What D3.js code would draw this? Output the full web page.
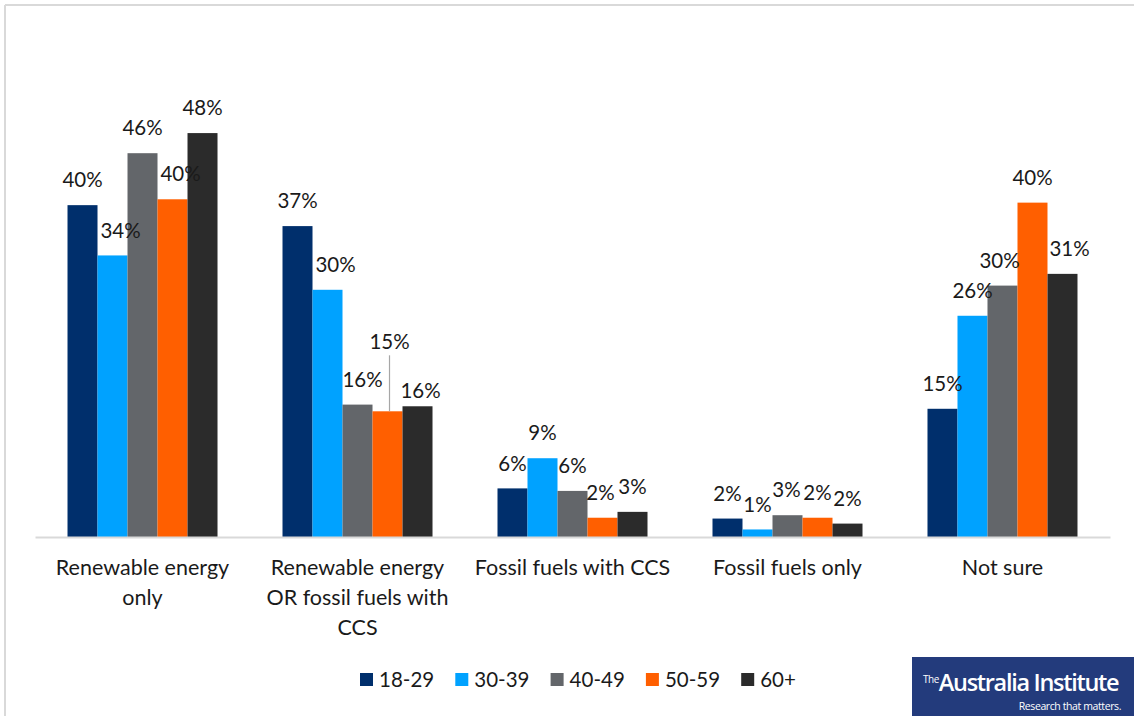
<!DOCTYPE html>
<html>
<head>
<meta charset="utf-8">
<script src="https://cdn.jsdelivr.net/npm/d3@7"></script>
<style>
  body { margin: 0; background: #fff; }
  svg { display: block; font-family: Lato, "Open Sans", sans-serif; }
</style>
</head>
<body>
<svg></svg>
<script>
let categories = [
    ['Renewable energy', 'only'],
    ['Renewable energy', 'OR fossil fuels with', 'CCS'],
    ['Fossil fuels with CCS'],
    ['Fossil fuels only'],
    ['Not sure']
]
let ageGroups = ['18-29', '30-39', '40-49', '50-59', '60+']
let colors = ['#002f6c', '#00a2ff', '#63666a', '#ff5f00', '#2b2b2b']

// percent by age group, one entry per category
let age18 = [39.6, 37.1, 5.8, 2.2, 15.3]
let age30 = [33.6, 29.5, 9.4, 0.9, 26.4]
let age40 = [45.8, 15.8, 5.5, 2.6, 30.0]
let age50 = [40.3, 15.0, 2.3, 2.3, 39.9]
let age60 = [48.2, 15.6, 3.0, 1.6, 31.4]
let series = [age18, age30, age40, age50, age60]

// small label nudges done by hand in the original (category, series) -> [dx, dy]
let nudge = {
    '0-1': [8, 0], '0-3': [8, 0],
    '1-1': [8, 0], '1-2': [5, 0], '1-3': [2, -44], '1-4': [3, 10],
    '2-3': [-2, 0],
    '3-2': [-1, 0], '4-2': [-3, 0], '4-4': [7, 0]
}

let width = 1134
let height = 716
let baseline = 537

let svg = d3.select('svg').attr('width', width).attr('height', height)

// frame
svg.append('line').attr('x1', 5).attr('x2', width).attr('y1', 5).attr('y2', 5)
    .attr('stroke', '#d9d9d9').attr('stroke-width', 2)
svg.append('line').attr('x1', 5).attr('x2', 5).attr('y1', 5).attr('y2', height)
    .attr('stroke', '#d9d9d9').attr('stroke-width', 2)

let xScale = d3.scaleBand()
    .domain(d3.range(categories.length))
    .range([35, 1110])
    .paddingInner(0.3023)
    .paddingOuter(0.1512)

let xInner = d3.scaleBand()
    .domain(d3.range(ageGroups.length))
    .range([0, xScale.bandwidth()])

let yScale = d3.scaleLinear()
    .domain([0, 50])
    .range([baseline, baseline - 50 * 8.38])

let cells = []
categories.forEach((c, i) => {
    series.forEach((s, j) => {
        cells.push({cat: i, ser: j, value: s[i]})
    })
})

svg.selectAll('rect.bar')
    .data(cells)
    .enter()
    .append('rect')
    .attr('class', 'bar')
    .attr('x', d => xScale(d.cat) + xInner(d.ser))
    .attr('width', xInner.bandwidth())
    .attr('y', d => yScale(d.value))
    .attr('height', d => yScale(0) - yScale(d.value))
    .attr('fill', d => colors[d.ser])

// axis line
let xAxis = d3.axisBottom(xScale).tickSize(0).tickFormat('')
let gx = svg.append('g')
    .attr('transform', 'translate(0,' + baseline + ')')
    .call(xAxis)
gx.select('.domain').attr('stroke', '#d9d9d9').attr('stroke-width', 2)

// leader line for the moved 15% label
cells.filter(d => nudge[d.cat + '-' + d.ser] && nudge[d.cat + '-' + d.ser][1] < -30)
    .forEach(d => {
        let cx = xScale(d.cat) + xInner(d.ser) + xInner.bandwidth() / 2 + 2
        svg.append('line')
            .attr('x1', cx).attr('x2', cx)
            .attr('y1', yScale(d.value) - 25 + nudge[d.cat + '-' + d.ser][1] + 13)
            .attr('y2', yScale(d.value))
            .attr('stroke', '#a6a6a6').attr('stroke-width', 1.2)
    })

// value labels
svg.selectAll('text.val')
    .data(cells)
    .enter()
    .append('text')
    .attr('class', 'val')
    .attr('x', d => {
        let n = nudge[d.cat + '-' + d.ser] || [0, 0]
        return xScale(d.cat) + xInner(d.ser) + xInner.bandwidth() / 2 + n[0]
    })
    .attr('y', d => {
        let n = nudge[d.cat + '-' + d.ser] || [0, 0]
        return yScale(d.value) - 25 + n[1]
    })
    .attr('dy', '0.35em')
    .attr('text-anchor', 'middle')
    .attr('font-size', 20.5)
    .attr('fill', '#1a1a1a')
    .text(d => Math.round(d.value) + '%')

// category labels
categories.forEach((lines, i) => {
    let t = svg.append('text')
        .attr('x', xScale(i) + xScale.bandwidth() / 2)
        .attr('y', 567)
        .attr('text-anchor', 'middle')
        .attr('font-size', 21.5)
        .attr('fill', '#1a1a1a')
    lines.forEach((l, k) => {
        t.append('tspan')
            .attr('x', xScale(i) + xScale.bandwidth() / 2)
            .attr('y', 567 + k * 30)
            .attr('dy', '0.35em')
            .text(l)
    })
})

// legend
let legend = svg.append('g').attr('transform', 'translate(360, 680)')
ageGroups.forEach((a, i) => {
    let g = legend.append('g').attr('transform', 'translate(' + (i * 95.3) + ',0)')
    g.append('rect').attr('x', 0).attr('y', -7).attr('width', 13).attr('height', 13)
        .attr('fill', colors[i])
    g.append('text').attr('x', 19).attr('y', 0).attr('dy', '0.35em')
        .attr('font-size', 20.5).attr('fill', '#1a1a1a').text(a)
})

// logo
let logo = svg.append('g').attr('transform', 'translate(912, 657)')
logo.append('rect').attr('width', 222).attr('height', 59).attr('fill', '#233b7c')
let brand = logo.append('text').attr('x', 11).attr('y', 34)
    .attr('fill', '#fff').attr('font-family', '"Open Sans", sans-serif')
brand.append('tspan').attr('font-size', 10).attr('dy', -8).attr('letter-spacing', -0.5).text('The')
brand.append('tspan').attr('font-size', 23.5).attr('dy', 8).attr('font-weight', 600)
    .attr('letter-spacing', -1.3).text('Australia Institute')
logo.append('text').attr('x', 209).attr('y', 53).attr('text-anchor', 'end')
    .attr('fill', '#fff').attr('font-size', 10.5).attr('font-family', '"Open Sans", sans-serif')
    .attr('letter-spacing', -0.4).text('Research that matters.')
</script>
</body>
</html>
